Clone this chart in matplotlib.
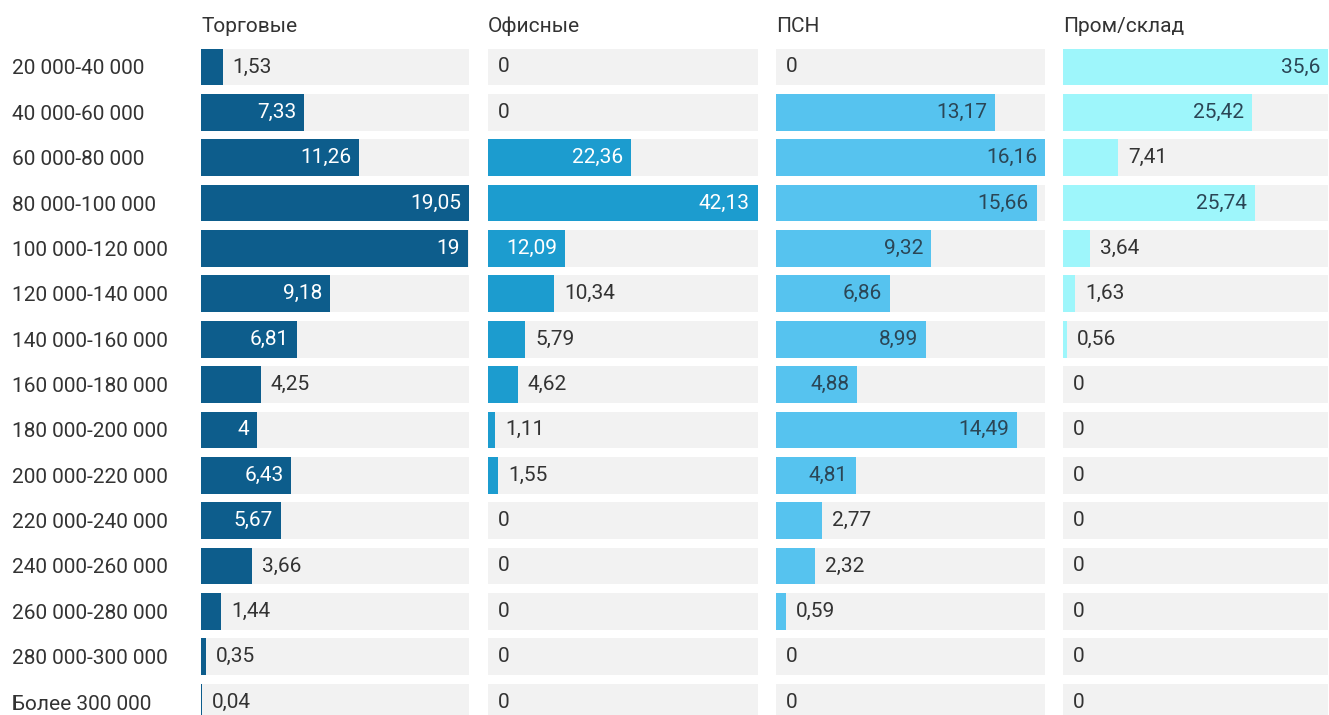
import matplotlib.pyplot as plt

plt.rcParams['font.family'] = ['Roboto', 'DejaVu Sans']

W, H = 1329, 715

categories = ['20 000-40 000', '40 000-60 000', '60 000-80 000', '80 000-100 000',
              '100 000-120 000', '120 000-140 000', '140 000-160 000', '160 000-180 000',
              '180 000-200 000', '200 000-220 000', '220 000-240 000', '240 000-260 000',
              '260 000-280 000', '280 000-300 000', 'Более 300 000']

panel_names = ['Торговые', 'Офисные', 'ПСН', 'Пром/склад']

trade = [1.53, 7.33, 11.26, 19.05, 19, 9.18, 6.81, 4.25, 4, 6.43, 5.67, 3.66, 1.44, 0.35, 0.04]
office = [0, 0, 22.36, 42.13, 12.09, 10.34, 5.79, 4.62, 1.11, 1.55, 0, 0, 0, 0, 0]
psn = [0, 13.17, 16.16, 15.66, 9.32, 6.86, 8.99, 4.88, 14.49, 4.81, 2.77, 2.32, 0.59, 0, 0]
warehouse = [35.6, 25.42, 7.41, 25.74, 3.64, 1.63, 0.56, 0, 0, 0, 0, 0, 0, 0, 0]

series = [trade, office, psn, warehouse]
colors = ['#0d5d8c', '#1c9ccf', '#56c3ef', '#9ef6fb']
inside_text = ['white', 'white', '#2b4656', '#2b4656']
bg_color = '#f2f2f2'
text_color = '#333333'
fs = 15

# panel spans in pixels
spans = [(201, 469), (488, 758), (776, 1045), (1063, 1328)]
row_top, row_step = 67, 45.36

fig = plt.figure(figsize=(W / 100, H / 100), dpi=100)
renderer = fig.canvas.get_renderer()

y = list(range(len(categories)))
top_px = row_top - row_step / 2
bot_px = row_top + row_step * (len(categories) - 0.5)

for k, (vals, (x0, x1)) in enumerate(zip(series, spans)):
    ax = fig.add_axes([x0 / W, (H - bot_px) / H, (x1 - x0) / W, (bot_px - top_px) / H])
    vmax = max(vals)
    ax.barh(y, [vmax] * len(y), height=0.81, color=bg_color)
    ax.barh(y, vals, height=0.81, color=colors[k])
    ax.set_xlim(0, vmax)
    ax.set_ylim(len(y) - 0.5, -0.5)
    for s in ax.spines.values():
        s.set_visible(False)
    ax.set_xticks([])
    if k == 0:
        ax.set_yticks(y)
        ax.set_yticklabels(categories, fontsize=fs, color=text_color)
        ax.tick_params(axis='y', length=0, pad=(x0 - 12) * 0.72)
        for t in ax.get_yticklabels():
            t.set_horizontalalignment('left')
    else:
        ax.set_yticks([])
    ax.text(0, -0.9, panel_names[k], fontsize=fs, color=text_color,
            va='center', ha='left')

    # value labels: inside the bar when they fit, otherwise just after it
    px_per_unit = (x1 - x0) / vmax
    for yi, v in zip(y, vals):
        label = f'{v:g}'.replace('.', ',')
        t = ax.annotate(label, (v, yi), xytext=(10, 0), textcoords='offset pixels',
                        va='center', ha='left', fontsize=fs, color=text_color)
        tw = t.get_window_extent(renderer).width
        if v * px_per_unit > tw + 25:
            t.set_position((-8, 0))
            t.set_horizontalalignment('right')
            t.set_color(inside_text[k])

fig.savefig('out.png', dpi=100)
